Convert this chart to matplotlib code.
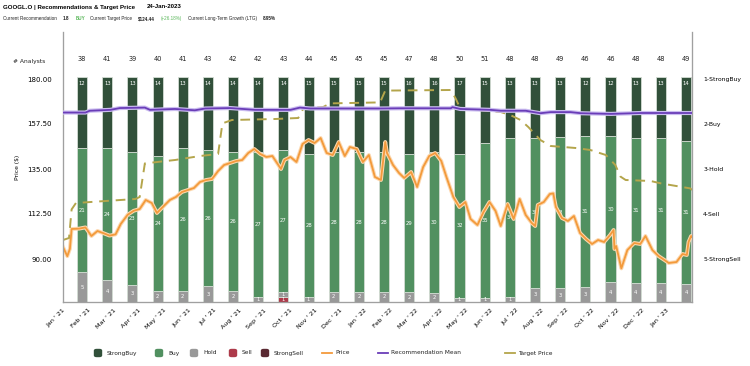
import matplotlib

matplotlib.use("Agg")

import matplotlib.pyplot as plt
import matplotlib.dates as mdates
from matplotlib.lines import Line2D
from matplotlib.patches import FancyBboxPatch
import numpy as np

W, H = 750, 366

MONTH_LABELS = [
    "Jan ' 21", "Feb ' 21", "Mar ' 21", "Apr ' 21", "May ' 21", "Jun ' 21", "Jul ' 21",
    "Aug ' 21", "Sep ' 21", "Oct ' 21", "Nov ' 21", "Dec ' 21", "Jan ' 22", "Feb ' 22",
    "Mar ' 22", "Apr ' 22", "May ' 22", "Jun ' 22", "Jul ' 22", "Aug ' 22", "Sep ' 22",
    "Oct ' 22", "Nov ' 22", "Dec ' 22", "Jan ' 23",
]
STRONG_BUY = [12, 13, 13, 14, 13, 14, 14, 14, 14, 15, 15, 15, 15, 16, 16, 17, 15, 13, 13, 13, 12, 12, 13, 13, 14]
BUY = [21, 24, 23, 24, 26, 26, 26, 27, 27, 28, 28, 28, 28, 29, 30, 32, 35, 34, 32, 33, 31, 30, 31, 31, 31]
HOLD = [5, 4, 3, 2, 2, 3, 2, 1, 1, 1, 2, 2, 2, 2, 2, 1, 1, 1, 3, 3, 3, 4, 4, 4, 4]
SELL = [0, 0, 0, 0, 0, 0, 0, 0, 1, 0, 0, 0, 0, 0, 0, 0, 0, 0, 0, 0, 0, 0, 0, 0, 0]
STRONG_SELL = [0] * 25

PRICE_DATES = [
    "2021-01-24", "2021-01-29", "2021-02-01", "2021-02-03", "2021-02-12", "2021-02-19", "2021-02-26",
    "2021-03-05", "2021-03-12", "2021-03-19", "2021-03-26", "2021-04-01", "2021-04-09", "2021-04-16",
    "2021-04-23", "2021-04-30", "2021-05-07", "2021-05-13", "2021-05-21", "2021-05-28", "2021-06-04",
    "2021-06-11", "2021-06-18", "2021-06-25", "2021-07-02", "2021-07-09", "2021-07-16", "2021-07-23",
    "2021-07-30", "2021-08-06", "2021-08-13", "2021-08-20", "2021-08-27", "2021-09-03", "2021-09-10",
    "2021-09-17", "2021-09-24", "2021-10-04", "2021-10-08", "2021-10-15", "2021-10-22", "2021-10-29",
    "2021-11-05", "2021-11-12", "2021-11-19", "2021-11-26", "2021-12-03", "2021-12-10", "2021-12-17",
    "2021-12-23", "2021-12-31", "2022-01-07", "2022-01-14", "2022-01-21", "2022-01-28", "2022-02-02",
    "2022-02-04", "2022-02-11", "2022-02-18", "2022-02-24", "2022-03-04", "2022-03-11", "2022-03-18",
    "2022-03-25", "2022-04-01", "2022-04-08", "2022-04-14", "2022-04-22", "2022-04-29", "2022-05-06",
    "2022-05-12", "2022-05-20", "2022-05-27", "2022-06-03", "2022-06-10", "2022-06-16", "2022-06-24",
    "2022-07-01", "2022-07-08", "2022-07-15", "2022-07-22", "2022-07-26", "2022-07-29", "2022-08-05",
    "2022-08-12", "2022-08-16", "2022-08-19", "2022-08-26", "2022-09-02", "2022-09-09", "2022-09-16",
    "2022-09-23", "2022-09-30", "2022-10-07", "2022-10-14", "2022-10-21", "2022-10-25", "2022-10-26",
    "2022-10-28", "2022-11-03", "2022-11-10", "2022-11-18", "2022-11-25", "2022-12-01", "2022-12-09",
    "2022-12-16", "2022-12-23", "2022-12-28", "2023-01-06", "2023-01-13", "2023-01-18", "2023-01-20",
    "2023-01-23", "2023-01-24",
]
PRICE_VALUES = [
    96.0, 91.4, 95.1, 105.0, 105.2, 105.8, 101.5,
    104.0, 102.9, 101.7, 102.3, 107.5, 112.1, 114.1,
    115.0, 119.5, 118.0, 113.0, 116.5, 119.5, 121.0,
    123.5, 124.5, 125.5, 128.5, 129.5, 130.0, 134.0,
    137.0, 138.0, 139.0, 139.5, 143.0, 145.0, 142.5,
    141.0, 141.5, 135.0, 139.5, 141.0, 138.5, 147.5,
    149.5, 148.0, 150.5, 143.0, 142.0, 148.5, 141.5,
    146.0, 145.0, 138.5, 142.0, 131.0, 129.5, 148.5,
    143.0, 137.0, 133.0, 130.5, 133.5, 126.0, 136.0,
    141.5, 143.0, 139.0, 131.0, 121.0, 116.0, 118.5,
    110.0, 107.0, 113.5, 118.5, 114.0, 106.5, 117.5,
    110.0, 120.0, 112.0, 108.0, 106.5, 117.0, 118.5,
    122.5, 122.8, 116.0, 110.5, 109.0, 111.5, 103.0,
    100.0, 97.5, 99.5, 98.5, 102.0, 104.5, 95.0,
    96.5, 85.3, 94.5, 98.0, 97.5, 101.5, 94.5,
    91.5, 89.5, 88.0, 88.5, 92.5, 92.0, 98.5,
    101.5, 101.0,
]

TARGET_DATES = [
    "2021-01-24", "2021-01-31", "2021-02-03", "2021-02-08", "2021-04-18", "2021-04-23", "2021-04-29",
    "2021-06-03", "2021-07-02", "2021-07-23", "2021-07-28", "2021-08-08", "2021-09-27", "2021-10-24",
    "2021-10-30", "2021-11-22", "2021-11-30", "2022-01-27", "2022-02-02", "2022-04-19", "2022-04-25",
    "2022-04-30", "2022-06-16", "2022-06-27", "2022-07-09", "2022-07-18", "2022-08-01", "2022-08-13",
    "2022-09-11", "2022-09-28", "2022-10-16", "2022-10-27", "2022-11-02", "2022-11-08", "2022-12-07",
    "2022-12-19", "2023-01-22", "2023-01-24",
]
TARGET_VALUES = [
    99.5, 100.5, 114.8, 118.0, 120.0, 121.0, 137.8,
    139.5, 141.5, 142.5, 157.8, 159.5, 160.0, 160.5,
    165.3, 166.0, 167.8, 168.3, 174.2, 174.5, 170.0,
    165.3, 163.5, 162.0, 159.5, 156.0, 149.5, 146.5,
    145.5, 144.5, 142.0, 137.0, 131.2, 129.5, 129.0,
    127.8, 125.3, 124.5,
]

REC_DATES = [
    "2021-01-24", "2021-02-19", "2021-02-24", "2021-03-20", "2021-03-31", "2021-04-29", "2021-05-05",
    "2021-06-03", "2021-06-26", "2021-07-08", "2021-08-06", "2021-09-04", "2021-10-15", "2021-10-26",
    "2021-11-07", "2022-01-27", "2022-02-20", "2022-04-19", "2022-04-21", "2022-04-30", "2022-06-04",
    "2022-06-16", "2022-07-15", "2022-08-01", "2022-08-13", "2022-09-05", "2022-09-17", "2022-10-22",
    "2022-11-26", "2023-01-24",
]
REC_VALUES = [
    1.74, 1.74, 1.70, 1.68, 1.64, 1.63, 1.68,
    1.66, 1.69, 1.65, 1.64, 1.68, 1.68, 1.63,
    1.65, 1.65, 1.645, 1.645, 1.62, 1.66, 1.68,
    1.70, 1.70, 1.755, 1.73, 1.73, 1.755, 1.77,
    1.75, 1.75,
]

REC_TICKS = [1, 2, 3, 4, 5]
REC_TICK_LABELS = ["1-StrongBuy", "2-Buy", "3-Hold", "4-Sell", "5-StrongSell"]
PRICE_TICKS = [90.0, 112.5, 135.0, 157.5, 180.0]

COLORS = {
    "StrongBuy": "#31503a",
    "Buy": "#519060",
    "Hold": "#999999",
    "Sell": "#ad3a4a",
    "StrongSell": "#5a2932",
}
PRICE_COLOR = "#f39a3b"
REC_COLOR = "#6a3db8"
TARGET_COLOR = "#b4a54b"
GREEN_TEXT = "#5cb85c"
HEAD_FONT = ["Liberation Sans", "DejaVu Sans"]


def fx(px):
    return px / W


def fy(py):
    return 1 - py / H


fig = plt.figure(figsize=(W / 100, H / 100), dpi=100)
rect = [fx(63), fy(302), fx(692) - fx(63), fy(32) - fy(302)]
ax_bar = fig.add_axes(rect)
ax_price = ax_bar.twinx()
ax_rec = ax_bar.twinx()

x0 = mdates.date2num(np.datetime64("2021-01-24"))
x1 = mdates.date2num(np.datetime64("2023-01-24"))
slot = (x1 - x0) / len(MONTH_LABELS)
bar_x = x0 + (np.arange(len(MONTH_LABELS)) + 0.76) * slot
tick_x = x0 + np.arange(len(MONTH_LABELS)) * slot

# percent stacked bars
counts = np.array([STRONG_SELL, SELL, HOLD, BUY, STRONG_BUY], dtype=float)
names = ["StrongSell", "Sell", "Hold", "Buy", "StrongBuy"]
totals = counts.sum(axis=0)
pct = counts / totals * 100
bottom = np.zeros(len(MONTH_LABELS))
for name, seg, raw in zip(names, pct, counts):
    ax_bar.bar(bar_x, seg, bottom=bottom, width=slot * 0.4, color=COLORS[name],
               edgecolor="#d3dcd3", linewidth=0.6, zorder=1)
    for xi, b, s, r in zip(bar_x, bottom, seg, raw):
        if r <= 0:
            continue
        yl = b + s - 3.0 if name == "StrongBuy" else b + s / 2
        ax_bar.text(xi, yl, f"{int(r)}", color="white", fontsize=3.8, ha="center", va="center", zorder=2)
    bottom += seg

for xi, t in zip(bar_x, totals):
    ax_bar.text(xi, 108, f"{int(t)}", fontsize=4.8, ha="center", va="center", color="#222222")
fig.text(fx(45), fy(61.5), "# Analysts", fontsize=4.3, ha="right", va="center", color="#222222")

ax_bar.set_ylim(0, 120)
ax_bar.set_yticks([])
ax_bar.set_xlim(x0, x1)
ax_bar.set_xticks(tick_x)
ax_bar.set_xticklabels(MONTH_LABELS, rotation=45, ha="right", rotation_mode="anchor", fontsize=4.6)
ax_bar.tick_params(axis="x", length=0, pad=4)

# price and target on the left axis
price_x = mdates.date2num(np.array(PRICE_DATES, dtype="datetime64[D]"))
target_x = mdates.date2num(np.array(TARGET_DATES, dtype="datetime64[D]"))
ax_price.plot(price_x, PRICE_VALUES, color="#fcd8b0", linewidth=2.8, zorder=3, solid_joinstyle="round")
ax_price.plot(price_x, PRICE_VALUES, color=PRICE_COLOR, linewidth=1.3, zorder=4, solid_joinstyle="round")
ax_price.plot(target_x, TARGET_VALUES, color=TARGET_COLOR, linewidth=1.4, dashes=(5, 3.5), zorder=4)
ax_price.set_ylim(68.5, 203.5)
ax_price.yaxis.tick_left()
ax_price.set_yticks(PRICE_TICKS)
ax_price.set_yticklabels([f"{v:.2f}" for v in PRICE_TICKS], fontsize=5.0)
ax_price.tick_params(axis="y", length=0, pad=8)
ax_price.set_ylabel("Price ($)", fontsize=4.3)
ax_price.yaxis.set_label_coords(-0.076, 0.5)

# recommendation mean on the right axis (1 = StrongBuy at the top)
rec_x = mdates.date2num(np.array(REC_DATES, dtype="datetime64[D]"))
ax_rec.plot(rec_x, REC_VALUES, color="#cbbdf0", linewidth=3.0, zorder=3)
ax_rec.plot(rec_x, REC_VALUES, color=REC_COLOR, linewidth=1.3, zorder=4)
ax_rec.set_ylim(5.95, -0.05)
ax_rec.set_yticks(REC_TICKS)
ax_rec.set_yticklabels(REC_TICK_LABELS, fontsize=4.4)
ax_rec.tick_params(axis="y", length=0, pad=8)
ax_rec.set_xlim(x0, x1)
ax_price.set_xlim(x0, x1)

for a in (ax_bar, ax_price, ax_rec):
    a.spines["top"].set_visible(False)
    for s in ("left", "right", "bottom"):
        a.spines[s].set_color("#a0a0a0")
        a.spines[s].set_linewidth(0.8)
ax_price.patch.set_visible(False)
ax_rec.patch.set_visible(False)

# header
fig.text(fx(3), fy(7), "GOOGL.O | Recommendations & Target Price", fontsize=4.4, fontweight="bold",
         va="center", family=HEAD_FONT)
fig.text(fx(147), fy(7), "24-Jan-2023", fontsize=4.4, fontweight="bold", va="center", family=HEAD_FONT)
header = [
    (3, "Current Recommendation", "#222222", "normal"),
    (63, "1.8", "#222222", "bold"),
    (76, "BUY", GREEN_TEXT, "bold"),
    (90, "Current Target Price", "#222222", "normal"),
    (138, "$124.44", "#222222", "bold"),
    (161, "(+26.18%)", GREEN_TEXT, "normal"),
    (188, "Current Long-Term Growth (LTG)", "#222222", "normal"),
    (263, "8.95%", "#222222", "bold"),
]
for xp, txt, col, wt in header:
    fig.text(fx(xp), fy(18.7), txt, fontsize=3.35, color=col, fontweight=wt, va="center", family=HEAD_FONT)

# legend, drawn item by item in figure pixels
legend_y = 353
for xp, name in [(98, "StrongBuy"), (159, "Buy"), (194, "Hold"), (233, "Sell"), (265, "StrongSell")]:
    fig.patches.append(FancyBboxPatch((fx(xp - 3.5), fy(legend_y + 3.5)), fx(7), 7 / H,
                                      boxstyle="round,pad=0,rounding_size=0.003",
                                      transform=fig.transFigure, color=COLORS[name]))
    fig.text(fx(xp + 9), fy(legend_y), name, fontsize=4.2, va="center", color="#222222")
for xp, name, col in [(327, "Price", PRICE_COLOR), (383, "Recommendation Mean", REC_COLOR),
                      (510, "Target Price", TARGET_COLOR)]:
    fig.lines.append(Line2D([fx(xp - 5), fx(xp + 5)], [fy(legend_y), fy(legend_y)],
                            transform=fig.transFigure, color=col, linewidth=1.3))
    fig.text(fx(xp + 8), fy(legend_y), name, fontsize=4.2, va="center", color="#222222")

fig.savefig("out.png", dpi=100)
plt.close(fig)
